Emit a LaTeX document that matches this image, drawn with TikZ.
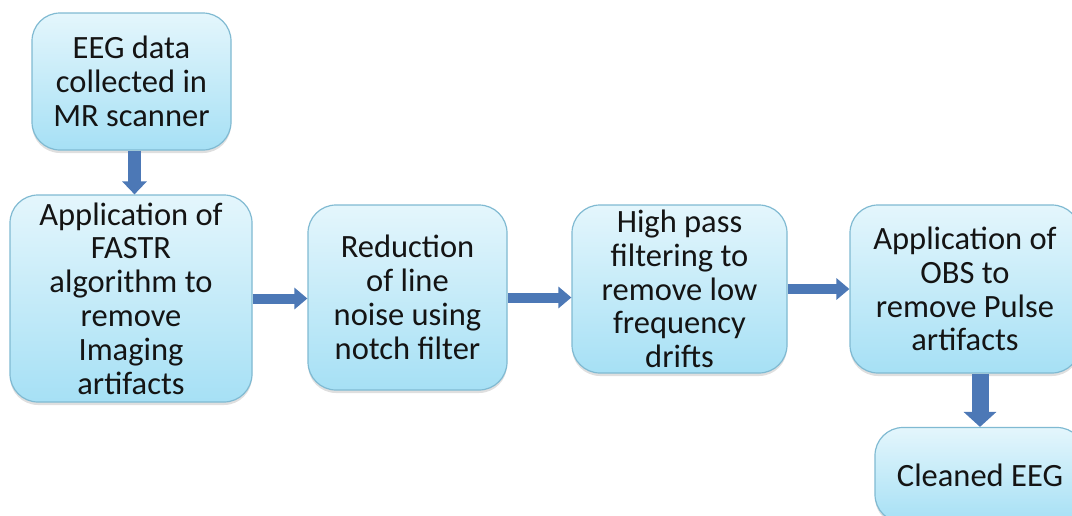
\documentclass[tikz,border=0pt]{standalone}
\usepackage{fontspec}
\setmainfont{Carlito}
\usetikzlibrary{arrows.meta,shadows,calc}
\definecolor{boxtop}{RGB}{228,246,252}
\definecolor{boxbot}{RGB}{166,224,245}
\definecolor{boxline}{RGB}{128,186,210}
\definecolor{arrfill}{RGB}{76,120,182}
\definecolor{txt}{RGB}{20,20,20}
\tikzset{
  stepbox/.style={draw=boxline, line width=1.2pt, rounded corners=28pt,
    top color=boxtop, bottom color=boxbot, align=center, text=txt,
    font=\fontsize{32.5}{33.8}\selectfont, inner sep=0pt,
    drop shadow={opacity=0.25, shadow xshift=0pt, shadow yshift=-3pt}},
  flowarrow/.style={draw=arrfill, line width=#1},
  flowarrow/.default=10pt
}
\begin{document}
\begin{tikzpicture}[x=1pt,y=-1pt]
\useasboundingbox (0,0) rectangle (1072,515);
\clip (0,0) rectangle (1072,515);
\node[stepbox, minimum width=199pt, minimum height=137pt] (b1) at (131.5,81.5)
  {EEG data\\collected in\\MR scanner};
\node[stepbox, minimum width=242pt, minimum height=207pt] (b2) at (131,298.5)
  {Application of\\FASTR\\algorithm to\\remove\\Imaging\\artifacts};
\node[stepbox, minimum width=199pt, minimum height=185pt] (b3) at (407.5,297.5)
  {Reduction\\of line\\noise using\\notch filter};
\node[stepbox, minimum width=215pt, minimum height=168pt] (b4) at (679.5,289)
  {High pass\\filtering to\\remove low\\frequency\\drifts};
\node[stepbox, minimum width=230pt, minimum height=168pt] (b5) at (965,289)
  {Application of\\OBS to\\remove Pulse\\artifacts};
\node[stepbox, minimum width=210pt, minimum height=95pt] (b6) at (980,475)
  {Cleaned EEG};
% connectors
\draw[flowarrow=13pt, -{Triangle[width=24pt,length=13pt]}]
  ($(b1.south)+(3,0)$) -- ($(b2.north)+(3.5,0)$);
\draw[flowarrow, -{Triangle[width=21pt,length=13pt]}]
  (b2.east) -- (b2.east -| b3.west);
\draw[flowarrow, -{Triangle[width=21pt,length=13pt]}]
  (b3.east) -- (b3.east -| b4.west);
\draw[flowarrow, -{Triangle[width=21pt,length=13pt]}]
  (b4.east) -- (b4.east -| b5.west);
\draw[flowarrow=17pt, -{Triangle[width=32pt,length=15pt]}]
  (b6.north |- b5.south) -- (b6.north);
\end{tikzpicture}
\end{document}
